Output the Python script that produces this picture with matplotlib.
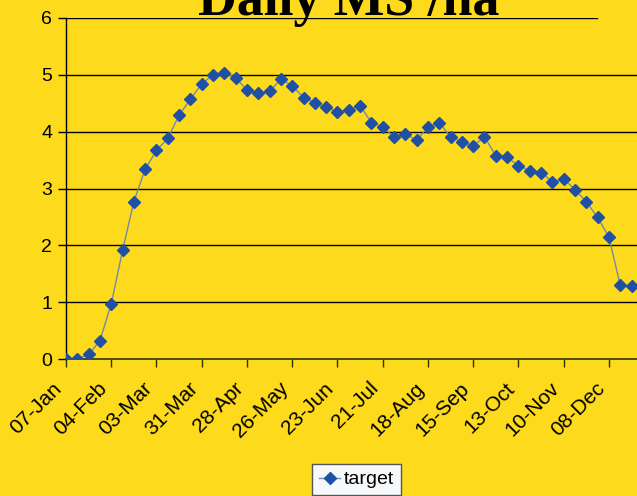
import matplotlib
matplotlib.use("Agg")
import matplotlib.pyplot as plt
import matplotlib.transforms as mtransforms
import numpy as np

# weekly values starting 07-Jan
values = [0.00, 0.00, 0.08, 0.32, 0.97, 1.91, 2.77, 3.34, 3.67, 3.88,
          4.29, 4.57, 4.84, 5.00, 5.04, 4.95, 4.73, 4.68, 4.71, 4.92,
          4.81, 4.60, 4.51, 4.43, 4.35, 4.38, 4.46, 4.16, 4.08, 3.91,
          3.96, 3.85, 4.08, 4.16, 3.91, 3.82, 3.75, 3.91, 3.58, 3.55,
          3.40, 3.31, 3.28, 3.12, 3.17, 2.98, 2.77, 2.49, 2.15, 1.30,
          1.28]
tick_labels = ["07-Jan", "04-Feb", "03-Mar", "31-Mar", "28-Apr", "26-May",
               "23-Jun", "21-Jul", "18-Aug", "15-Sep", "13-Oct", "10-Nov",
               "08-Dec"]
series_name = "target"
title = "Daily MS /ha"

BG = "#FDDA1B"
W, H = 637, 496
fig = plt.figure(figsize=(W/100, H/100), dpi=100, facecolor=BG)
ax = fig.add_axes([66/W, 1-359/H, (W-66)/W, (359-18)/H], facecolor=BG)

x = np.arange(len(values))
ax.plot(x, values, color="#7588AE", lw=1.0, marker="D", ms=6.5,
        mfc="#1F50A4", mec="#1F50A4", label=series_name, zorder=3)

ax.set_xlim(0, (W-66)/11.31)
ax.set_ylim(0, 6)
ax.set_yticks(range(0, 7))
ax.set_yticklabels([str(i) for i in range(0, 7)], fontsize=14,
                   family="Liberation Sans")
for yv in range(1, 6):
    ax.axhline(yv, color="black", lw=1.0, zorder=1)
ax.axhline(6, xmin=0, xmax=(597-66)/(W-66), color="black", lw=1.0, zorder=1)

ax.set_xticks(np.arange(0, 4*len(tick_labels), 4))
ax.set_xticklabels(tick_labels, rotation=45, ha="right", va="center",
                   rotation_mode="anchor", fontsize=15,
                   family="Liberation Sans")
ax.tick_params(axis="x", direction="out", length=6, width=1, pad=13,
               color="#333300")
ax.tick_params(axis="y", direction="out", length=6, width=1, pad=4,
               color="black")
shift = mtransforms.ScaledTranslation(-7/100, 0, fig.dpi_scale_trans)
for lab in ax.get_xticklabels():
    lab.set_transform(lab.get_transform() + shift)

for s in ["top", "right"]:
    ax.spines[s].set_visible(False)
ax.spines["left"].set_color("black")
ax.spines["bottom"].set_color("#333300")
ax.spines["left"].set_linewidth(1.0)
ax.spines["bottom"].set_linewidth(1.2)

fig.text(349/W, 1-15/H, title, ha="center", va="baseline",
         fontsize=38.7, fontweight="bold", family="Liberation Serif")

leg = ax.legend(loc="upper left", bbox_to_anchor=(312/W, 1-464/H),
                bbox_transform=fig.transFigure,
                prop={"family": "Liberation Sans", "size": 14},
                frameon=True, fancybox=False, handlelength=1.1,
                handletextpad=0.2, borderpad=0.35, borderaxespad=0)
leg.get_frame().set_facecolor("#F7F8FA")
leg.get_frame().set_edgecolor("#555555")
leg.get_frame().set_alpha(1)
leg.get_frame().set_linewidth(1.0)

fig.savefig("out.png", dpi=100, facecolor=BG)
